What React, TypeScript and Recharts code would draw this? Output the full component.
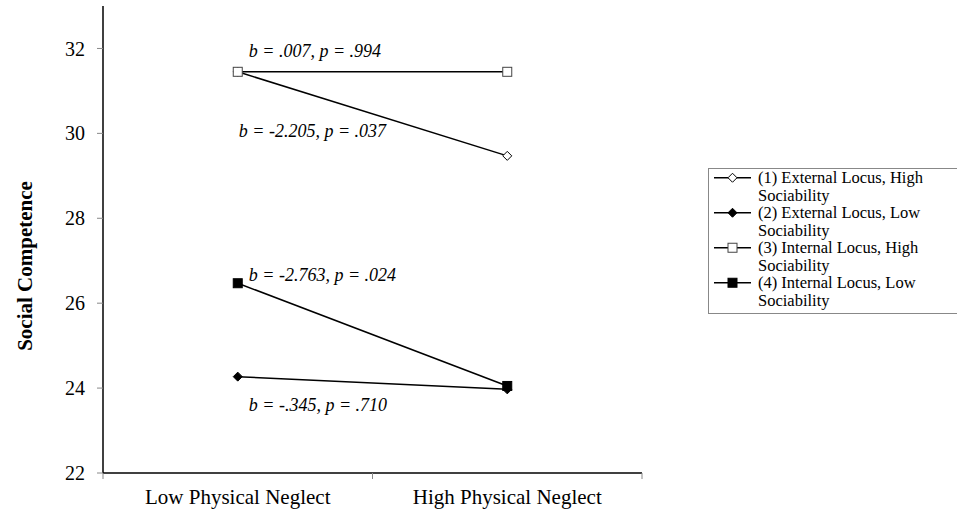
import React from 'react';
import { LineChart, Line, XAxis, YAxis, LabelList } from 'recharts';

const categories = ['Low Physical Neglect', 'High Physical Neglect'];
const seriesNames = [
  '(1) External Locus, High Sociability',
  '(2) External Locus, Low Sociability',
  '(3) Internal Locus, High Sociability',
  '(4) Internal Locus, Low Sociability',
];
const extHigh = [31.45, 29.47];
const extLow = [24.27, 23.97];
const intHigh = [31.45, 31.45];
const intLow = [26.47, 24.05];
const yTicks = [22, 24, 26, 28, 30, 32];
const annotations = [
  'b = -2.205, p = .037',
  'b = -.345, p = .710',
  'b = .007, p = .994',
  'b = -2.763, p = .024',
];

const data = categories.map((c, i) => ({
  cat: c,
  s1: extHigh[i],
  s2: extLow[i],
  s3: intHigh[i],
  s4: intLow[i],
}));

const FONT = '"Liberation Serif", "Times New Roman", serif';
const W = 957;
const H = 513;
const M = { top: 6, right: 315, bottom: 0, left: 0 };
const Y_W = 103;
const X_H = 40;
const HALF_BAND = (W - M.right - Y_W) / categories.length / 2;

type MarkerKind = 'openDiamond' | 'diamond' | 'openSquare' | 'square';
const markers: MarkerKind[] = ['openDiamond', 'diamond', 'openSquare', 'square'];

const drawMarker = (kind: MarkerKind, cx: number, cy: number, key?: any) => {
  if (kind === 'openDiamond' || kind === 'diamond') {
    const r = 4.5;
    return (
      <path
        key={key}
        d={`M${cx},${cy - r}L${cx + r},${cy}L${cx},${cy + r}L${cx - r},${cy}Z`}
        fill={kind === 'diamond' ? '#000' : '#fff'}
        stroke="#000"
        strokeWidth={1}
      />
    );
  }
  const s = 9;
  return (
    <rect
      key={key}
      x={cx - s / 2}
      y={cy - s / 2}
      width={s}
      height={s}
      fill={kind === 'square' ? '#000' : '#fff'}
      stroke={kind === 'square' ? '#000' : '#444'}
      strokeWidth={1}
    />
  );
};

const makeDot = (kind: MarkerKind) => (props: any) =>
  drawMarker(kind, props.cx, props.cy, `${kind}-${props.index}`);

const annoOffsets = [
  { dx: 1, dy: 59 },
  { dx: 11, dy: 28 },
  { dx: 11, dy: -21 },
  { dx: 11, dy: -8 },
];

const makeAnno = (i: number) => (props: any) => {
  if (props.index !== 0) return null;
  return (
    <text
      x={props.x + annoOffsets[i].dx}
      y={props.y + annoOffsets[i].dy}
      dominantBaseline="central"
      fontFamily={FONT}
      fontStyle="italic"
      fontSize={18}
      fill="#000"
    >
      {annotations[i]}
    </text>
  );
};

const XTick = (props: any) => {
  const { x, y, payload, index } = props;
  const last = index === categories.length - 1;
  return (
    <g>
      <line x1={x - HALF_BAND} x2={x - HALF_BAND} y1={y} y2={y + 6} stroke="#888" />
      {last && <line x1={x + HALF_BAND} x2={x + HALF_BAND} y1={y} y2={y + 6} stroke="#888" />}
      <text x={x} y={y + 31} textAnchor="middle" fontFamily={FONT} fontSize={21} fill="#000">
        {payload.value}
      </text>
    </g>
  );
};

const LegendBox = () => (
  <div
    style={{
      position: 'absolute',
      left: 708,
      top: 168,
      borderTop: '1px solid #888',
      borderBottom: '1px solid #888',
      borderLeft: '1px solid #888',
      paddingTop: 0,
      paddingBottom: 4,
      fontFamily: FONT,
      fontSize: 16.5,
      lineHeight: '17.5px',
      color: '#000',
      boxSizing: 'border-box',
      width: W - 708,
    }}
  >
    {seriesNames.map((n, i) => (
      <div key={n} style={{ display: 'flex', alignItems: 'flex-start' }}>
        <svg width={49} height={17.5} style={{ flex: 'none' }}>
          <line x1={5} x2={42} y1={8.75} y2={8.75} stroke="#000" strokeWidth={1.5} />
          {drawMarker(markers[i], 23.5, 8.75)}
        </svg>
        <div style={{ width: 180 }}>{n}</div>
      </div>
    ))}
  </div>
);

const YLabel = () => (
  <text
    x={25}
    y={266}
    transform="rotate(-90, 25, 266)"
    textAnchor="middle"
    dominantBaseline="central"
    fontFamily={FONT}
    fontWeight="bold"
    fontSize={21}
    fill="#000"
  >
    Social Competence
  </text>
);

export default function App() {
  const keys = ['s1', 's2', 's3', 's4'];
  return (
    <div style={{ position: 'absolute', left: 0, top: 0, width: W, height: H, background: '#fff', overflow: 'hidden' }}>
      <LineChart width={W} height={H} data={data} margin={M}>
        <XAxis
          dataKey="cat"
          height={X_H}
          padding={{ left: HALF_BAND, right: HALF_BAND }}
          axisLine={{ stroke: '#000', strokeWidth: 1.5 }}
          tickLine={false}
          tickSize={0}
          tickMargin={0}
          tick={<XTick />}
          interval={0}
        />
        <XAxis
          xAxisId="top"
          dataKey="cat"
          orientation="top"
          height={0}
          axisLine={{ stroke: '#999', strokeWidth: 1.5 }}
          tick={false}
          tickLine={false}
        />
        <YAxis
          domain={[22, 33]}
          ticks={yTicks}
          width={Y_W}
          axisLine={{ stroke: '#000', strokeWidth: 1.5 }}
          tickLine={{ stroke: '#888' }}
          tickSize={6}
          tickMargin={12}
          tick={{ fontFamily: FONT, fontSize: 20, fill: '#000' }}
          label={<YLabel />}
          allowDataOverflow
        />
        <YAxis
          yAxisId="right"
          orientation="right"
          width={0}
          domain={[22, 33]}
          axisLine={{ stroke: '#999', strokeWidth: 1.5 }}
          tick={false}
          tickLine={false}
        />
        {keys.map((k, i) => (
          <Line
            key={k}
            dataKey={k}
            name={seriesNames[i]}
            stroke="#000"
            strokeWidth={1.5}
            dot={makeDot(markers[i])}
            activeDot={false}
            isAnimationActive={false}
          >
            <LabelList dataKey={k} content={makeAnno(i)} />
          </Line>
        ))}
      </LineChart>
      <LegendBox />
    </div>
  );
}
